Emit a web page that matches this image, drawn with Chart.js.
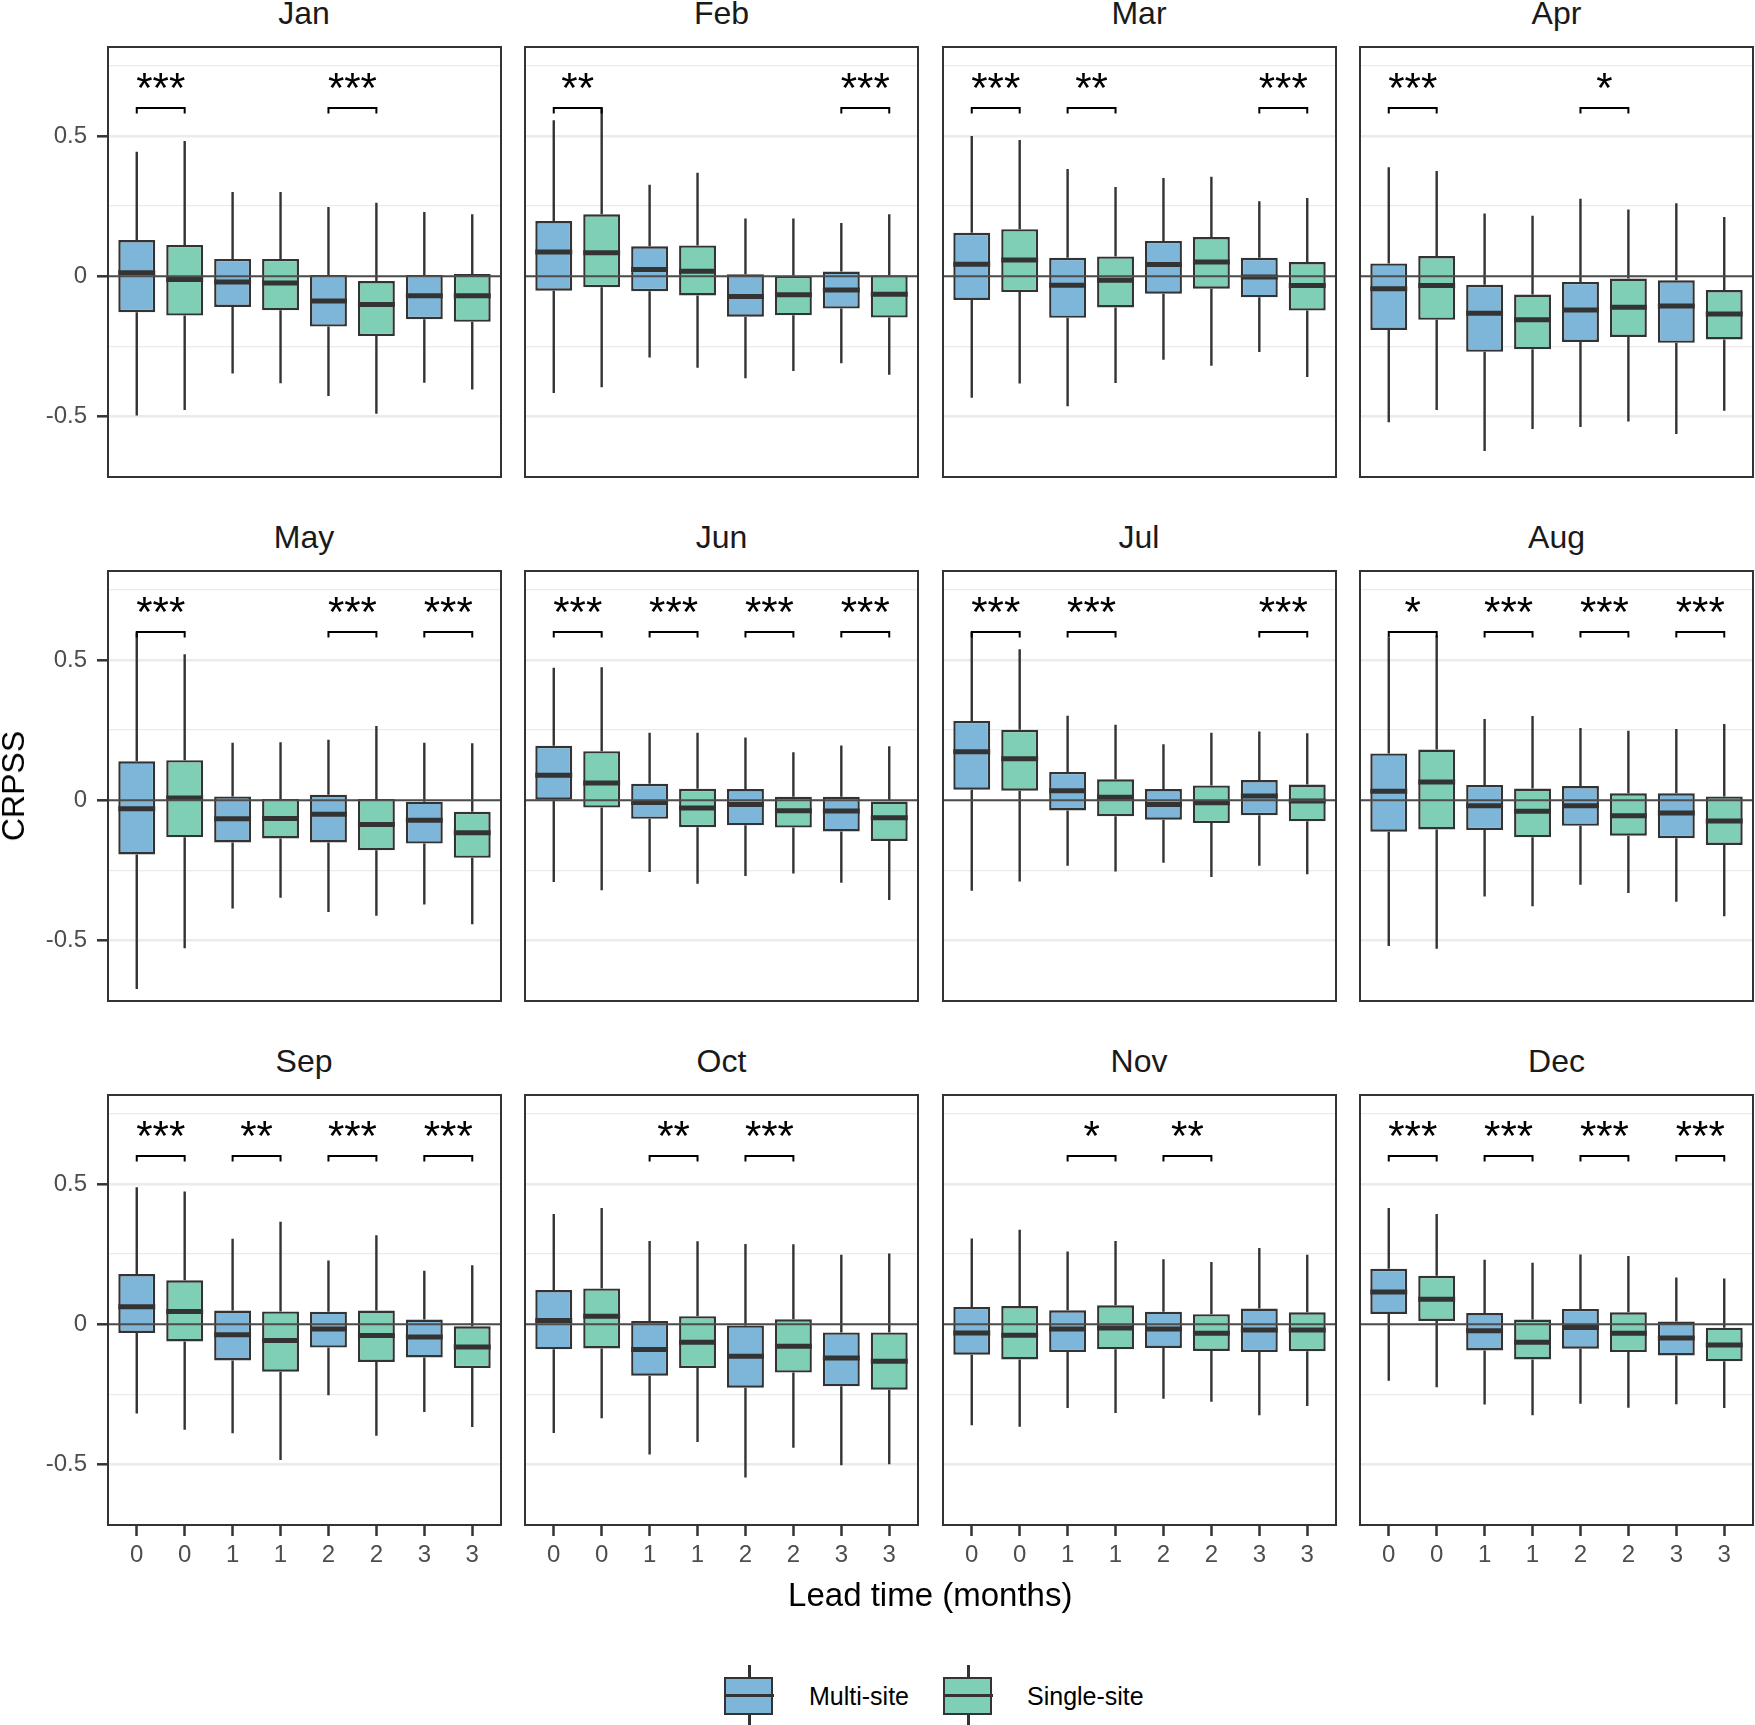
<!DOCTYPE html>
<html>
<head>
<meta charset="utf-8">
<script src="https://cdn.jsdelivr.net/npm/chart.js@4.4.1/dist/chart.umd.min.js"></script>
<style>
  body { margin: 0; background: #fff; width: 1755px; height: 1725px; position: relative; overflow: hidden;
         font-family: "Liberation Sans", Arial, sans-serif; }
  .panel { position: absolute; }
  .txt { position: absolute; white-space: nowrap; line-height: 1; }
  .key { position: absolute; width: 50px; }
</style>
</head>
<body>
<script>
const months = ["Jan", "Feb", "Mar", "Apr", "May", "Jun", "Jul", "Aug", "Sep", "Oct", "Nov", "Dec"];
const leadLabels = ["0", "0", "1", "1", "2", "2", "3", "3"];
const yTickValues = [-0.5, -0.25, 0, 0.25, 0.5, 0.75];
const seriesNames = ["Multi-site", "Single-site"];

// each row: [lower whisker, Q1, median, Q3, upper whisker] for lead 0, 1, 2, 3
const janMulti  = [[-0.496, -0.128, 0.013, 0.129, 0.444], [-0.346, -0.109, -0.020, 0.062, 0.300], [-0.426, -0.179, -0.088, 0.005, 0.247], [-0.379, -0.153, -0.069, 0.005, 0.229]];
const janSingle = [[-0.476, -0.140, -0.011, 0.112, 0.482], [-0.381, -0.121, -0.024, 0.062, 0.300], [-0.490, -0.213, -0.100, -0.017, 0.262], [-0.403, -0.162, -0.069, 0.008, 0.221]];
const febMulti  = [[-0.416, -0.051, 0.087, 0.197, 0.556], [-0.289, -0.053, 0.024, 0.107, 0.326], [-0.363, -0.144, -0.072, 0.007, 0.206], [-0.310, -0.115, -0.049, 0.017, 0.190]];
const febSingle = [[-0.395, -0.039, 0.084, 0.221, 0.600], [-0.326, -0.068, 0.018, 0.110, 0.369], [-0.337, -0.139, -0.066, 0.002, 0.206], [-0.351, -0.147, -0.064, 0.004, 0.221]];
const marMulti  = [[-0.433, -0.084, 0.043, 0.155, 0.500], [-0.463, -0.148, -0.032, 0.066, 0.382], [-0.297, -0.062, 0.042, 0.126, 0.350], [-0.270, -0.075, -0.002, 0.066, 0.267]];
const marSingle = [[-0.382, -0.056, 0.058, 0.168, 0.486], [-0.380, -0.111, -0.014, 0.071, 0.318], [-0.319, -0.044, 0.051, 0.140, 0.355], [-0.359, -0.122, -0.033, 0.051, 0.279]];
const aprMulti  = [[-0.520, -0.191, -0.044, 0.046, 0.389], [-0.622, -0.269, -0.132, -0.030, 0.224], [-0.537, -0.234, -0.120, -0.020, 0.276], [-0.562, -0.237, -0.106, -0.014, 0.260]];
const aprSingle = [[-0.476, -0.155, -0.033, 0.072, 0.375], [-0.544, -0.260, -0.155, -0.065, 0.216], [-0.517, -0.216, -0.110, -0.008, 0.238], [-0.479, -0.225, -0.134, -0.049, 0.211]];
const mayMulti  = [[-0.672, -0.193, -0.030, 0.139, 0.598], [-0.385, -0.150, -0.066, 0.014, 0.205], [-0.398, -0.150, -0.050, 0.020, 0.216], [-0.371, -0.154, -0.071, -0.005, 0.205]];
const maySingle = [[-0.527, -0.132, 0.008, 0.143, 0.520], [-0.347, -0.136, -0.065, 0.005, 0.207], [-0.411, -0.178, -0.086, 0.005, 0.265], [-0.442, -0.205, -0.116, -0.041, 0.203]];
const junMulti  = [[-0.291, 0.002, 0.089, 0.194, 0.472], [-0.255, -0.066, -0.008, 0.059, 0.241], [-0.270, -0.089, -0.015, 0.040, 0.224], [-0.294, -0.111, -0.038, 0.013, 0.195]];
const junSingle = [[-0.320, -0.026, 0.062, 0.175, 0.474], [-0.297, -0.096, -0.027, 0.041, 0.241], [-0.261, -0.097, -0.037, 0.013, 0.171], [-0.355, -0.145, -0.062, 0.000, 0.193]];
const julMulti  = [[-0.322, 0.038, 0.173, 0.283, 0.600], [-0.233, -0.036, 0.034, 0.101, 0.301], [-0.222, -0.069, -0.015, 0.040, 0.200], [-0.233, -0.053, 0.015, 0.072, 0.245]];
const julSingle = [[-0.289, 0.034, 0.148, 0.251, 0.538], [-0.254, -0.057, 0.011, 0.075, 0.269], [-0.273, -0.081, -0.009, 0.053, 0.241], [-0.263, -0.075, -0.002, 0.056, 0.239]];
const augMulti  = [[-0.519, -0.112, 0.032, 0.167, 0.580], [-0.343, -0.106, -0.019, 0.055, 0.290], [-0.301, -0.091, -0.019, 0.051, 0.258], [-0.361, -0.135, -0.045, 0.025, 0.254]];
const augSingle = [[-0.529, -0.104, 0.065, 0.181, 0.587], [-0.377, -0.132, -0.039, 0.042, 0.300], [-0.330, -0.126, -0.055, 0.025, 0.248], [-0.413, -0.159, -0.074, 0.014, 0.272]];
const sepMulti  = [[-0.318, -0.031, 0.063, 0.179, 0.488], [-0.388, -0.129, -0.037, 0.049, 0.305], [-0.253, -0.083, -0.017, 0.045, 0.227], [-0.312, -0.118, -0.045, 0.017, 0.191]];
const sepSingle = [[-0.376, -0.061, 0.046, 0.157, 0.473], [-0.483, -0.169, -0.058, 0.046, 0.365], [-0.397, -0.134, -0.040, 0.049, 0.317], [-0.366, -0.156, -0.081, -0.007, 0.210]];
const octMulti  = [[-0.387, -0.089, 0.014, 0.122, 0.393], [-0.464, -0.183, -0.090, 0.012, 0.297], [-0.546, -0.226, -0.114, -0.004, 0.286], [-0.502, -0.221, -0.120, -0.029, 0.248]];
const octSingle = [[-0.335, -0.086, 0.029, 0.128, 0.414], [-0.419, -0.156, -0.064, 0.029, 0.296], [-0.440, -0.172, -0.078, 0.018, 0.285], [-0.499, -0.233, -0.132, -0.029, 0.252]];
const novMulti  = [[-0.360, -0.108, -0.031, 0.062, 0.306], [-0.298, -0.099, -0.017, 0.050, 0.259], [-0.265, -0.084, -0.017, 0.045, 0.232], [-0.324, -0.099, -0.020, 0.056, 0.272]];
const novSingle = [[-0.365, -0.125, -0.039, 0.065, 0.337], [-0.316, -0.089, -0.013, 0.068, 0.297], [-0.276, -0.095, -0.032, 0.036, 0.222], [-0.291, -0.096, -0.020, 0.043, 0.248]];
const decMulti  = [[-0.201, 0.037, 0.115, 0.198, 0.414], [-0.286, -0.093, -0.023, 0.040, 0.230], [-0.283, -0.087, -0.011, 0.055, 0.249], [-0.285, -0.111, -0.049, 0.010, 0.167]];
const decSingle = [[-0.224, 0.012, 0.089, 0.173, 0.393], [-0.324, -0.125, -0.064, 0.017, 0.219], [-0.297, -0.099, -0.032, 0.043, 0.243], [-0.298, -0.132, -0.074, -0.012, 0.163]];

// significance of the multi vs single difference at lead 0..3
const janStars = ["***", "", "***", ""];
const febStars = ["**", "", "", "***"];
const marStars = ["***", "**", "", "***"];
const aprStars = ["***", "", "*", ""];
const mayStars = ["***", "", "***", "***"];
const junStars = ["***", "***", "***", "***"];
const julStars = ["***", "***", "", "***"];
const augStars = ["*", "***", "***", "***"];
const sepStars = ["***", "**", "***", "***"];
const octStars = ["", "**", "***", ""];
const novStars = ["", "*", "**", ""];
const decStars = ["***", "***", "***", "***"];

const multiSite = [janMulti, febMulti, marMulti, aprMulti, mayMulti, junMulti, julMulti, augMulti, sepMulti, octMulti, novMulti, decMulti];
const singleSite = [janSingle, febSingle, marSingle, aprSingle, maySingle, junSingle, julSingle, augSingle, sepSingle, octSingle, novSingle, decSingle];
const stars = [janStars, febStars, marStars, aprStars, mayStars, junStars, julStars, augStars, sepStars, octStars, novStars, decStars];

const blue = "#7EB6D9";
const green = "#7FCFB6";
const dark = "#333333";
const font = '"Liberation Sans", Arial, sans-serif';

// panel geometry
const colLeft = [107.5, 525, 942.5, 1360];
const rowTop = [47, 571, 1095];
const panelW = 393, panelH = 430;

function addText(str, x, y, size, color, align) {
  const d = document.createElement("div");
  d.className = "txt";
  d.textContent = str;
  d.style.fontSize = size + "px";
  d.style.color = color;
  d.style.left = x + "px";
  d.style.top = (y - size * 0.8465) + "px";  // y is the baseline
  if (align === "center") d.style.transform = "translateX(-50%)";
  document.body.appendChild(d);
  return d;
}

function boxExtras(sig) {
  return {
    id: "boxExtras",
    beforeDatasetsDraw(chart) {
      const { ctx } = chart;
      const y = chart.scales.y;
      ctx.save();
      ctx.strokeStyle = dark;
      ctx.lineWidth = 2.4;
      chart.data.datasets.forEach((ds, d) => {
        chart.getDatasetMeta(d).data.forEach((bar, i) => {
          const s = ds.stats[i];
          ctx.beginPath();
          ctx.moveTo(bar.x, y.getPixelForValue(s[4]));
          ctx.lineTo(bar.x, y.getPixelForValue(s[3]));
          ctx.moveTo(bar.x, y.getPixelForValue(s[1]));
          ctx.lineTo(bar.x, y.getPixelForValue(s[0]));
          ctx.stroke();
        });
      });
      ctx.restore();
    },
    afterDatasetsDraw(chart) {
      const { ctx, chartArea: a } = chart;
      const y = chart.scales.y;
      ctx.save();
      // medians
      ctx.strokeStyle = dark;
      ctx.lineWidth = 5;
      chart.data.datasets.forEach((ds, d) => {
        chart.getDatasetMeta(d).data.forEach((bar, i) => {
          const py = y.getPixelForValue(ds.stats[i][2]);
          ctx.beginPath();
          ctx.moveTo(bar.x - bar.width / 2, py);
          ctx.lineTo(bar.x + bar.width / 2, py);
          ctx.stroke();
        });
      });
      // zero reference line
      ctx.strokeStyle = "#4D4D4D";
      ctx.lineWidth = 2;
      const y0 = y.getPixelForValue(0);
      ctx.beginPath();
      ctx.moveTo(a.left, y0);
      ctx.lineTo(a.right, y0);
      ctx.stroke();
      // significance brackets
      const m0 = chart.getDatasetMeta(0).data, m1 = chart.getDatasetMeta(1).data;
      ctx.strokeStyle = "#000";
      ctx.lineWidth = 2;
      ctx.fillStyle = "#000";
      ctx.font = "42px " + font;
      ctx.textAlign = "center";
      ctx.textBaseline = "alphabetic";
      sig.forEach((s, j) => {
        if (!s) return;
        const xa = m0[j].x, xb = m1[j].x;
        const yb = y.getPixelForValue(0.6), yl = y.getPixelForValue(0.58);
        ctx.beginPath();
        ctx.moveTo(xa, yl);
        ctx.lineTo(xa, yb);
        ctx.lineTo(xb, yb);
        ctx.lineTo(xb, yl);
        ctx.stroke();
        ctx.fillText(s, (xa + xb) / 2, y.getPixelForValue(0.705) + 24);
      });
      // panel border
      ctx.strokeStyle = dark;
      ctx.lineWidth = 2;
      ctx.strokeRect(a.left, a.top, a.right - a.left, a.bottom - a.top);
      ctx.restore();
    }
  };
}

months.forEach((name, k) => {
  const col = k % 4, row = Math.floor(k / 4);
  const leftW = col === 0 ? 107 : 4;
  const bottomH = row === 2 ? 60 : 4;
  const pad = 4;
  const w = leftW + panelW + pad, h = pad + panelH + bottomH;

  const holder = document.createElement("div");
  holder.className = "panel";
  holder.style.left = (colLeft[col] - leftW) + "px";
  holder.style.top = (rowTop[row] - pad) + "px";
  holder.style.width = w + "px";
  holder.style.height = h + "px";
  const canvas = document.createElement("canvas");
  canvas.width = w;
  canvas.height = h;
  holder.appendChild(canvas);
  document.body.appendChild(holder);

  addText(name, colLeft[col] + panelW / 2, rowTop[row] - 23, 32, "#1A1A1A", "center");

  const multi = multiSite[k], single = singleSite[k];
  const isMajor = v => Math.abs(v * 2 - Math.round(v * 2)) < 1e-6;

  new Chart(canvas, {
    type: "bar",
    data: {
      datasets: [
        {
          label: seriesNames[0],
          data: multi.map((s, j) => ({ x: 2 * j + 1, y: [s[1], s[3]] })),
          stats: multi,
          backgroundColor: blue
        },
        {
          label: seriesNames[1],
          data: single.map((s, j) => ({ x: 2 * j + 2, y: [s[1], s[3]] })),
          stats: single,
          backgroundColor: green
        }
      ]
    },
    options: {
      responsive: false,
      animation: false,
      events: [],
      layout: { padding: { top: pad, right: pad, left: 0, bottom: 0 } },
      datasets: {
        bar: {
          grouped: false,
          borderColor: dark,
          borderWidth: 2.4,
          borderSkipped: false,
          barPercentage: 0.77,
          categoryPercentage: 1
        }
      },
      plugins: { legend: { display: false }, tooltip: { enabled: false } },
      scales: {
        x: {
          type: "linear",
          min: 0.4,
          max: 8.6,
          offset: false,
          afterBuildTicks: s => { s.ticks = leadLabels.map((_, i) => ({ value: i + 1 })); },
          afterFit: s => { s.height = bottomH; s.paddingLeft = 0; s.paddingRight = 0; },
          border: { display: false },
          grid: { offset: false, drawOnChartArea: false, drawTicks: row === 2, tickLength: 11, tickColor: dark, tickWidth: 2.5 },
          ticks: {
            display: row === 2,
            autoSkip: false,
            maxRotation: 0,
            padding: 5,
            color: "#4D4D4D",
            font: { family: font, size: 24 },
            callback: (v, i) => leadLabels[i]
          }
        },
        y: {
          min: -0.715,
          max: 0.817,
          afterBuildTicks: s => { s.ticks = yTickValues.map(v => ({ value: v })); },
          afterFit: s => { s.width = leftW; s.paddingTop = 0; s.paddingBottom = 0; },
          border: { display: false },
          grid: {
            color: "#EBEBEB",
            lineWidth: c => (isMajor(c.tick.value) ? 2.6 : 1.3),
            tickLength: 11,
            tickWidth: 2.5,
            tickColor: c => (col === 0 && isMajor(c.tick.value) ? dark : "rgba(0,0,0,0)")
          },
          ticks: {
            padding: 10,
            color: "#4D4D4D",
            font: { family: font, size: 24 },
            callback: v => (col === 0 && isMajor(v) ? String(v) : "")
          }
        }
      }
    },
    plugins: [boxExtras(stars[k])]
  });
});

// axis titles
addText("Lead time (months)", (colLeft[0] + colLeft[3] + panelW) / 2, 1606, 33, "#000", "center");
const yTitle = addText("CRPSS", 0, 0, 32, "#000");
yTitle.style.left = "13px";
yTitle.style.top = "786px";
yTitle.style.transform = "translate(-50%, -50%) rotate(-90deg)";

// legend
function legendKey(x, fill, label, labelX) {
  const k = document.createElement("div");
  k.className = "key";
  k.style.left = x + "px";
  k.style.top = "1665px";
  k.style.height = "60px";
  k.innerHTML =
    '<div style="position:absolute;left:24px;top:0;width:2.5px;height:60px;background:' + dark + '"></div>' +
    '<div style="position:absolute;left:0;top:12px;width:45px;height:34px;border:2.5px solid ' + dark + ';background:' + fill + '"></div>' +
    '<div style="position:absolute;left:0;top:29px;width:50px;height:3px;background:' + dark + '"></div>';
  document.body.appendChild(k);
  addText(label, labelX, 1705, 25, "#000");
}
legendKey(724, blue, seriesNames[0], 809);
legendKey(943, green, seriesNames[1], 1027);
</script>
</body>
</html>
